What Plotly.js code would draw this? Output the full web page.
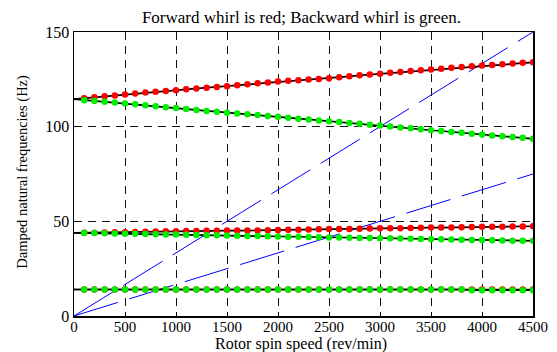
<!DOCTYPE html>
<html><head><meta charset="utf-8">
<script src="https://cdn.plot.ly/plotly-3.0.1.min.js"></script>
<style>html,body{margin:0;padding:0;background:#fff}#chart{width:557px;height:352px}</style>
</head><body><div id="chart"></div>
<script>
const speed = [0,100,200,300,400,500,600,700,800,900,1000,1100,1200,1300,1400,1500,1600,1700,1800,1900,2000,2100,2200,2300,2400,2500,2600,2700,2800,2900,3000,3100,3200,3300,3400,3500,3600,3700,3800,3900,4000,4100,4200,4300,4400,4500];
const fw1 = [14.0,14.0,14.0,14.0,14.0,14.0,14.0,14.0,14.0,14.0,14.0,14.0,14.0,14.0,14.0,14.0,14.0,14.0,14.0,14.0,14.0,14.0,14.0,14.0,14.0,14.0,14.0,14.0,14.0,14.0,14.0,14.0,14.0,14.0,14.0,14.0,14.0,14.0,14.0,14.0,14.0,14.0,14.0,14.0,14.0,14.0];
const bw1 = [14.0,14.0,14.0,14.0,14.0,14.0,14.0,14.0,14.0,14.0,14.0,14.0,14.0,14.0,14.0,14.0,14.0,14.0,14.0,14.0,14.0,14.0,14.0,14.0,14.0,14.0,14.0,14.0,14.0,14.0,14.0,14.0,14.0,14.0,14.0,14.0,14.0,14.0,14.0,13.6,13.6,13.6,13.6,13.6,13.6,13.6];
const fw2 = [43.9,44.0,44.0,44.1,44.2,44.3,44.4,44.5,44.6,44.7,44.8,44.9,44.9,45.0,45.0,45.1,45.1,45.2,45.2,45.3,45.4,45.5,45.6,45.7,45.8,45.9,46.0,46.0,46.1,46.2,46.3,46.3,46.4,46.5,46.6,46.7,46.7,46.8,46.9,47.0,47.1,47.1,47.2,47.3,47.3,47.4];
const bw2 = [43.9,43.8,43.8,43.7,43.6,43.5,43.4,43.3,43.2,43.1,43.0,42.9,42.8,42.7,42.6,42.5,42.4,42.3,42.2,42.1,42.0,41.9,41.8,41.7,41.6,41.5,41.4,41.3,41.2,41.2,41.1,41.0,40.9,40.8,40.7,40.6,40.5,40.4,40.3,40.2,40.1,40.0,39.9,39.8,39.8,39.7];
const fw3 = [114.5,115.0,115.5,116.0,116.5,117.0,117.5,118.0,118.4,118.9,119.3,119.7,120.2,120.6,121.0,121.4,121.9,122.4,122.9,123.3,123.8,124.2,124.5,124.9,125.2,125.6,126.1,126.6,127.1,127.5,128.0,128.5,128.9,129.4,129.8,130.2,130.6,131.1,131.5,131.9,132.3,132.6,133.0,133.3,133.7,134.0];
const bw3 = [114.5,114.0,113.6,113.2,112.7,112.3,111.8,111.3,110.8,110.3,109.8,109.3,108.8,108.3,107.9,107.4,107.0,106.5,106.1,105.6,105.2,104.7,104.2,103.8,103.3,102.8,102.4,101.9,101.5,101.0,100.6,100.1,99.6,99.1,98.6,98.1,97.7,97.2,96.8,96.3,95.9,95.4,95.0,94.5,94.1,93.6];
const excSpeed = [0,4500];
const exc1x = [0,75];
const exc2x = [0,150];
const xTicks = [0,500,1000,1500,2000,2500,3000,3500,4000,4500];
const yTicks = [0,50,100,150];
const titleText = 'Forward whirl is red; Backward whirl is green.';
const xTitle = 'Rotor spin speed (rev/min)';
const yTitle = 'Damped natural frequencies (Hz)';

const traces = [];
traces.push({x:excSpeed,y:exc2x,mode:'lines',line:{color:'#0000ff',width:1,dash:'46px,12px'},hoverinfo:'skip'});
traces.push({x:excSpeed,y:exc1x,mode:'lines',line:{color:'#0000ff',width:1,dash:'46px,12px'},hoverinfo:'skip'});
const modes = [[fw1,bw1],[fw2,bw2],[fw3,bw3]];
modes.forEach(([f,b])=>{
  traces.push({x:speed,y:f,mode:'lines',line:{color:'#000',width:1.7}});
  traces.push({x:speed,y:b,mode:'lines',line:{color:'#000',width:1.7}});
});
modes.forEach(([f,b])=>{
  traces.push({x:speed.slice(1),y:f.slice(1),mode:'markers',marker:{color:'#ff0000',size:6.5}});
});
modes.forEach(([f,b])=>{
  traces.push({x:speed.slice(1),y:b.slice(1),mode:'markers',marker:{color:'#00ee00',size:6.5}});
});

const fam = 'Liberation Serif, serif';
const F = s => ({family:fam,size:s,color:'#000'});
const layout = {
  width:557,height:352,
  margin:{l:74,r:24,t:32,b:36,pad:0},
  paper_bgcolor:'#fff',plot_bgcolor:'#fff',
  showlegend:false,
  font:F(15),
  title:{text:titleText,font:F(17),xref:'paper',x:0.4956,xanchor:'center',yref:'container',y:0.951,yanchor:'middle'},
  xaxis:{range:[0,4500],tickvals:xTicks,ticktext:xTicks.map(String),showgrid:true,gridcolor:'#111',griddash:'8px,6px',gridwidth:1,
    showline:true,linecolor:'#000',linewidth:1.5,mirror:true,ticks:'inside',ticklen:4,tickcolor:'#000',zeroline:false,
    tickfont:F(15),ticklabelstandoff:-4},
  yaxis:{range:[0,150],tickvals:yTicks,ticktext:yTicks.map(String),showgrid:true,gridcolor:'#111',griddash:'8px,6px',gridwidth:1,
    showline:true,linecolor:'#000',linewidth:1.5,mirror:true,ticks:'inside',ticklen:4,tickcolor:'#000',zeroline:false,
    tickfont:F(16)},
  annotations:[
    {text:xTitle,xref:'paper',yref:'paper',x:0.4956,y:-0.1,xanchor:'center',yanchor:'middle',showarrow:false,font:F(16)},
    {text:yTitle,xref:'paper',yref:'paper',x:-0.111,y:0.508,xanchor:'center',yanchor:'middle',showarrow:false,textangle:-90,font:F(14.5)}
  ]
};
Plotly.newPlot('chart',traces,layout,{staticPlot:true,displayModeBar:false});
</script></body></html>
